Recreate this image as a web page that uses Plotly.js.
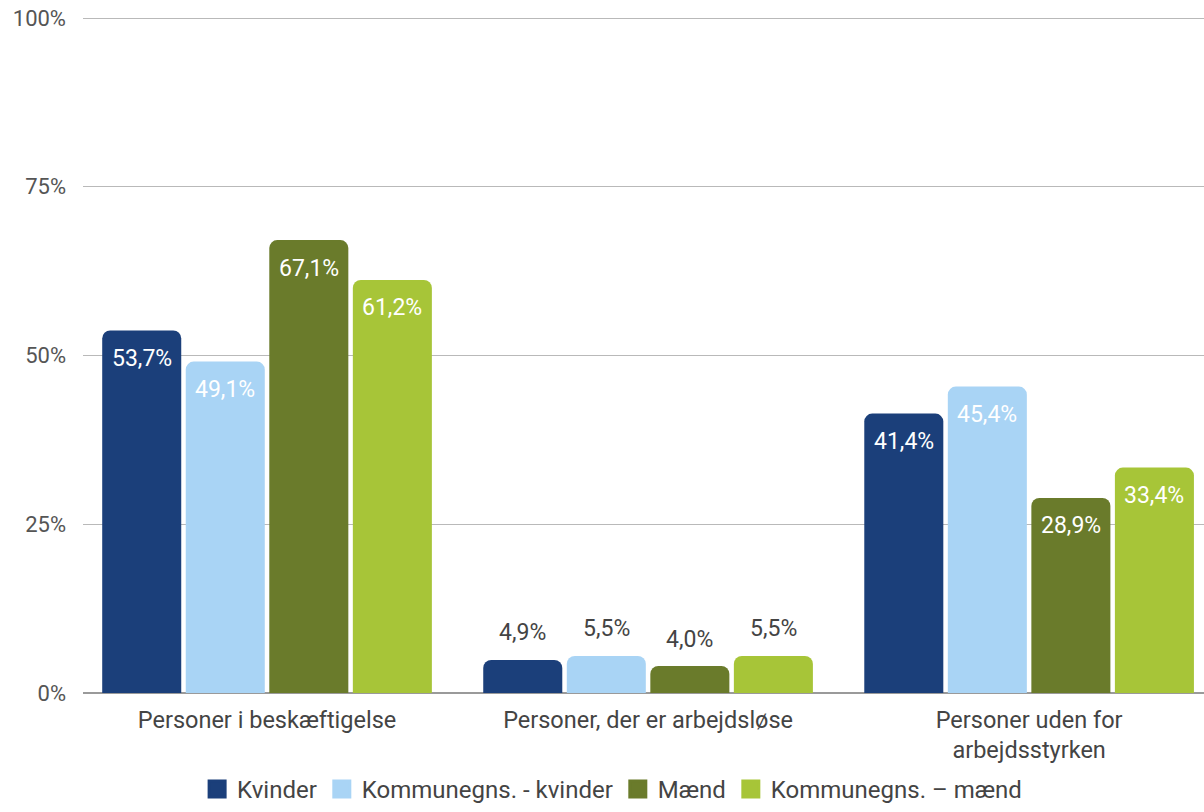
<!DOCTYPE html>
<html>
<head>
<meta charset="utf-8">
<script src="https://cdn.plot.ly/plotly-3.0.1.min.js"></script>
<style>
html,body{margin:0;padding:0;background:#fff;}
#chart{width:1204px;height:812px;}
</style>
</head>
<body>
<div id="chart"></div>
<script>
const categories = ["Personer i beskæftigelse", "Personer, der er arbejdsløse", "Personer uden for<br>arbejdsstyrken"];
const seriesNames = ["Kvinder", "Kommunegns. - kvinder", "Mænd", "Kommunegns. – mænd"];
const kvinder = [53.7, 4.9, 41.4];
const kommuneKvinder = [49.1, 5.5, 45.4];
const maend = [67.1, 4.0, 28.9];
const kommuneMaend = [61.2, 5.5, 33.4];
const seriesValues = [kvinder, kommuneKvinder, maend, kommuneMaend];
const colors = ["#1b3f7a", "#a9d4f5", "#6a7b2b", "#a7c538"];
const yTicks = [0, 25, 50, 75, 100];
const yTickLabels = ["0%", "25%", "50%", "75%", "100%"];
const labelInside = [true, false, true];

const fmt = v => v.toFixed(1).replace(".", ",") + "%";
const FONT = "Roboto, 'Noto Sans', sans-serif";

const traces = [];
seriesValues.forEach((vals, i) => {
  traces.push({
    type: "bar",
    x: categories,
    y: vals,
    name: seriesNames[i],
    showlegend: false,
    marker: {color: colors[i], cornerradius: 8},
    hoverinfo: "skip"
  });
});
seriesValues.forEach((vals, i) => {
  traces.push({
    type: "scatter",
    mode: "markers",
    x: [null],
    y: [null],
    name: seriesNames[i],
    marker: {symbol: "square", size: 16, color: colors[i], line: {color: colors[i], width: 3}},
    showlegend: true
  });
});

const bargap = 0.123;
const slot = (1 - bargap) / 4;
const annotations = [];
seriesValues.forEach((vals, i) => {
  vals.forEach((v, j) => {
    const inside = labelInside[j];
    annotations.push({
      x: j + (i - 1.5) * slot,
      y: v,
      xref: "x",
      yref: "y",
      text: fmt(v),
      showarrow: false,
      yanchor: "middle",
      yshift: inside ? -28 : 27,
      font: {family: FONT, size: 23, color: inside ? "#ffffff" : "#444444"}
    });
  });
});

const layout = {
  width: 1204,
  height: 812,
  margin: {l: 83, r: 0, t: 17, b: 119, autoexpand: false},
  paper_bgcolor: "#ffffff",
  plot_bgcolor: "#ffffff",
  font: {family: FONT, color: "#444444"},
  barmode: "group",
  bargap: bargap,
  bargroupgap: 0.054,
  xaxis: {
    type: "category",
    range: [-0.483, 2.459],
    showgrid: false,
    zeroline: false,
    showline: false,
    ticks: "",
    automargin: false,
    ticklabelstandoff: 10,
    tickfont: {family: FONT, size: 23.5, color: "#444444"},
    fixedrange: true
  },
  yaxis: {
    range: [0, 100.15],
    tickvals: yTicks,
    ticktext: yTickLabels,
    showgrid: true,
    gridcolor: "#b9b9b9",
    gridwidth: 1,
    zeroline: true,
    zerolinecolor: "#9a9a9a",
    zerolinewidth: 2,
    ticks: "",
    automargin: false,
    ticklabelstandoff: 16,
    tickfont: {family: FONT, size: 22, color: "#555555"},
    fixedrange: true
  },
  legend: {
    orientation: "h",
    x: 0.472,
    xanchor: "center",
    yref: "container",
    y: -0.008,
    yanchor: "bottom",
    font: {family: FONT, size: 24, color: "#444444"},
    itemwidth: 30,
    traceorder: "normal"
  },
  annotations: annotations
};

Plotly.newPlot("chart", traces, layout, {displayModeBar: false, staticPlot: true});
</script>
</body>
</html>
